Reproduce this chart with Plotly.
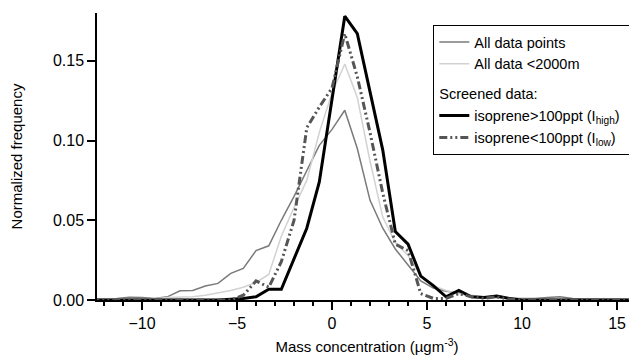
import plotly.graph_objects as go

# Bin centres (µg m^-3)
x_bins = [-12.67, -12.0, -11.33, -10.67, -10.0, -9.33, -8.67, -8.0, -7.33, -6.67,
          -6.0, -5.33, -4.67, -4.0, -3.33, -2.67, -2.0, -1.33, -0.67, 0.0,
          0.67, 1.33, 2.0, 2.67, 3.33, 4.0, 4.67, 5.33, 6.0, 6.67,
          7.33, 8.0, 8.67, 9.33, 10.0, 10.67, 11.33, 12.0, 12.67, 13.33,
          14.0, 14.67, 15.33, 16.0, 16.67]

all_points = [0.0005, 0.0005, 0.001, 0.0017, 0.0015, 0.001, 0.002, 0.0058, 0.006, 0.0088,
              0.0104, 0.0167, 0.0198, 0.031, 0.034, 0.05, 0.065, 0.081, 0.097, 0.107,
              0.119, 0.095, 0.0625, 0.045, 0.032, 0.022, 0.012, 0.0075, 0.0055, 0.0045,
              0.002, 0.002, 0.0015, 0.001, 0.001, 0.001, 0.0015, 0.002, 0.001, 0.0005,
              0.0005, 0.0003, 0.0003, 0.0003, 0.0003]

all_below_2000 = [0.0008, 0.0008, 0.0008, 0.0008, 0.0008, 0.0008, 0.0015, 0.0017, 0.002, 0.003,
                  0.0045, 0.006, 0.008, 0.011, 0.016, 0.04, 0.058, 0.075, 0.105, 0.13,
                  0.148, 0.127, 0.087, 0.052, 0.036, 0.028, 0.015, 0.009, 0.006, 0.004,
                  0.003, 0.002, 0.0015, 0.001, 0.0008, 0.0005, 0.0005, 0.0005, 0.0005, 0.0005,
                  0.0005, 0.0005, 0.0005, 0.0005, 0.0005]

iso_high = [0.0, 0.0, 0.0, 0.0, 0.0, 0.0, 0.0, 0.0, 0.0, 0.0,
            0.0, 0.0005, 0.001, 0.002, 0.0067, 0.0067, 0.026, 0.045, 0.074, 0.125,
            0.178, 0.167, 0.13, 0.094, 0.043, 0.035, 0.015, 0.009, 0.002, 0.006,
            0.002, 0.0015, 0.0025, 0.001, 0.0, 0.0, 0.0, 0.0, 0.0, 0.0,
            0.0, 0.0, 0.0, 0.0, 0.0]

iso_low = [0.0, 0.0, 0.0, 0.0, 0.0, 0.0, 0.0, 0.0, 0.0, 0.0,
           0.0, 0.0, 0.003, 0.012, 0.008, 0.024, 0.05, 0.108, 0.121, 0.133,
           0.167, 0.14, 0.105, 0.067, 0.035, 0.031, 0.004, 0.001, 0.001, 0.004,
           0.002, 0.001, 0.002, 0.0005, 0.0, 0.0, 0.0, 0.0, 0.0, 0.0,
           0.0, 0.0, 0.0, 0.0, 0.0]

x_tickvals = [-10, -5, 0, 5, 10, 15]
y_tickvals = [0.0, 0.05, 0.10, 0.15]

FONT = "Liberation Sans, Arial, sans-serif"

fig = go.Figure()
fig.add_trace(go.Scatter(x=x_bins, y=all_points, mode="lines", name="All data points",
                         legendgroup="all", line=dict(color="#7a7a7a", width=1.5)))
fig.add_trace(go.Scatter(x=x_bins, y=all_below_2000, mode="lines", name="All data <2000m",
                         legendgroup="all", line=dict(color="#d2d2d2", width=1.5)))
fig.add_trace(go.Scatter(x=x_bins, y=iso_high, mode="lines",
                         name="isoprene>100ppt (I<sub>high</sub>)&nbsp;&nbsp;",
                         legendgroup="screened",
                         legendgrouptitle=dict(text="Screened data:", font=dict(size=14.5, color="black")),
                         line=dict(color="black", width=3)))
fig.add_trace(go.Scatter(x=x_bins, y=iso_low, mode="lines",
                         name="isoprene<100ppt (I<sub>low</sub>)&nbsp;&nbsp;",
                         legendgroup="screened",
                         line=dict(color="#555555", width=3, dash="8px,3px,2px,3px,2px,3px")))

# The page body has an 8px default margin, so the figure is sized to fit the window.
fig.update_layout(
    width=629, height=352,
    margin=dict(l=89, r=0, t=5, b=60, pad=0),
    paper_bgcolor="white", plot_bgcolor="white",
    font=dict(family=FONT, size=14.5, color="black"),
    showlegend=True,
    legend=dict(x=0.995, y=0.958, xanchor="right", yanchor="top",
                bgcolor="white", bordercolor="black", borderwidth=1,
                traceorder="grouped", tracegroupgap=8,
                font=dict(size=14.5, color="black"), itemwidth=30),
)
fig.update_xaxes(
    range=[-12.37, 16.05], showgrid=False, zeroline=False, automargin=False,
    showline=True, linecolor="black", linewidth=1.5,
    ticks="outside", ticklen=8, tickwidth=1.5, tickcolor="black",
    tickvals=x_tickvals, tickfont=dict(size=16),
    minor=dict(ticks="outside", dtick=1, tick0=0, ticklen=4, tickwidth=1.5, tickcolor="black", showgrid=False),
    title=dict(text="Mass concentration (µgm<sup>-3</sup>)", font=dict(size=15), standoff=11),
)
fig.update_yaxes(
    range=[0, 0.18], showgrid=False, zeroline=False, automargin=False,
    showline=True, linecolor="black", linewidth=1.5,
    ticks="outside", ticklen=8, tickwidth=1.5, tickcolor="black",
    tickvals=y_tickvals, tickformat=".2f", tickfont=dict(size=16),
    title=dict(text="Normalized frequency", font=dict(size=15), standoff=28),
)

fig.write_html("out.html")
